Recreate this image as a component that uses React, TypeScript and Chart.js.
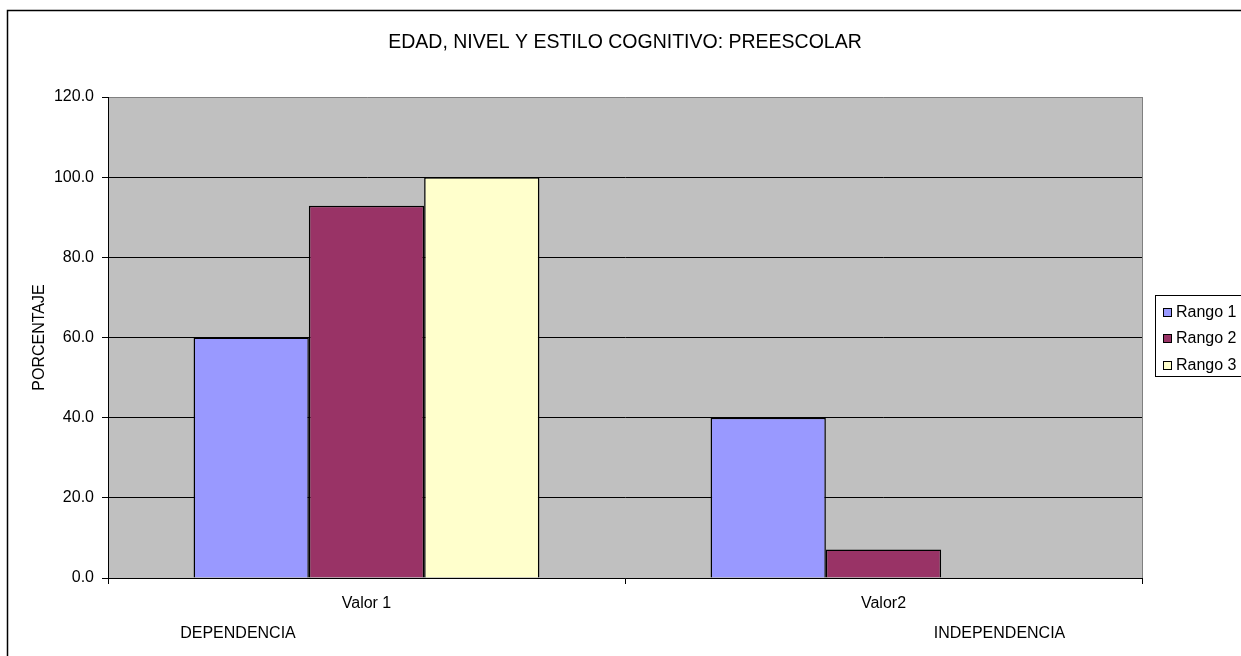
import { useEffect, useRef } from "react";
import { Chart, registerables } from "chart.js";

Chart.register(...registerables);

const TITLE = "EDAD, NIVEL Y ESTILO COGNITIVO: PREESCOLAR";
const CATEGORIES = ["Valor 1", "Valor2"];
const SERIES_NAMES = ["Rango 1", "Rango 2", "Rango 3"];
const RANGO_1 = [60.0, 40.0];
const RANGO_2 = [92.9, 7.1];
const RANGO_3 = [100.0, 0.0];
const SERIES_COLORS = ["#9999FF", "#993366", "#FFFFCC"];
const Y_MIN = 0;
const Y_MAX = 120;
const Y_STEP = 20;
const Y_TITLE = "PORCENTAJE";
const GROUP_NOTES = ["DEPENDENCIA", "INDEPENDENCIA"];

const FONT = "'Liberation Sans', Arial, sans-serif";
const SMALL = 16;
const W = 1241;
const H = 656;

const decorPlugin = {
  id: "decor",
  beforeDraw(chart: any) {
    const ctx = chart.ctx;
    const a = chart.chartArea;
    ctx.save();
    ctx.fillStyle = "#ffffff";
    ctx.fillRect(0, 0, W, H);
    ctx.strokeStyle = "#000000";
    ctx.lineWidth = 1.5;
    ctx.strokeRect(7.5, 10.5, W + 20, H + 20);
    ctx.fillStyle = "#C0C0C0";
    ctx.fillRect(a.left, a.top, a.right - a.left, a.bottom - a.top);
    ctx.restore();
  },
  afterDraw(chart: any) {
    const ctx = chart.ctx;
    const a = chart.chartArea;
    ctx.save();
    // right plot border
    ctx.strokeStyle = "#808080";
    ctx.lineWidth = 1;
    ctx.beginPath();
    ctx.moveTo(Math.round(a.right) + 0.5, a.top);
    ctx.lineTo(Math.round(a.right) + 0.5, a.bottom);
    ctx.stroke();
    // title
    ctx.fillStyle = "#000000";
    ctx.textAlign = "center";
    ctx.textBaseline = "middle";
    ctx.font = `19.5px ${FONT}`;
    ctx.fillText(TITLE, (a.left + a.right) / 2, 43);
    // group notes
    ctx.font = `${SMALL}px ${FONT}`;
    ctx.fillText(GROUP_NOTES[0], 238, 634);
    ctx.fillText(GROUP_NOTES[1], 999.5, 634);
    // legend
    const lx = 1155.5;
    const ly = 295.5;
    ctx.fillStyle = "#ffffff";
    ctx.fillRect(lx, ly, 200, 81);
    ctx.strokeStyle = "#000000";
    ctx.lineWidth = 1;
    ctx.strokeRect(lx, ly, 200, 81);
    ctx.textAlign = "left";
    ctx.font = `${SMALL}px ${FONT}`;
    chart.data.datasets.forEach((ds: any, i: number) => {
      const y = 312.5 + i * 26.5;
      ctx.fillStyle = ds.backgroundColor;
      ctx.fillRect(1163.5, Math.round(y) - 4.5, 8, 8);
      ctx.strokeStyle = "#000000";
      ctx.strokeRect(1163.5, Math.round(y) - 4.5, 8, 8);
      ctx.fillStyle = "#000000";
      ctx.fillText(ds.label, 1176, y);
    });
    ctx.restore();
  },
};

export default function App() {
  const ref = useRef<HTMLCanvasElement>(null);
  useEffect(() => {
    if (!ref.current) return;
    const seriesData = [RANGO_1, RANGO_2, RANGO_3];
    const chart = new Chart(ref.current, {
      type: "bar",
      data: {
        labels: CATEGORIES,
        datasets: SERIES_NAMES.map((name, i) => ({
          label: name,
          data: seriesData[i],
          backgroundColor: SERIES_COLORS[i],
          borderColor: "#000000",
          borderWidth: 1.5,
          categoryPercentage: 0.669,
          barPercentage: 1.0,
        })),
      },
      options: {
        responsive: false,
        animation: false,
        devicePixelRatio: 1,
        layout: { padding: { top: 97, left: 0, right: W - 1142, bottom: 0 } },
        plugins: {
          legend: { display: false },
          title: { display: false },
          tooltip: { enabled: false },
        },
        scales: {
          x: {
            grid: {
              display: true,
              drawOnChartArea: false,
              drawTicks: true,
              tickLength: 6,
              tickColor: "#000000",
              offset: true,
            },
            border: { color: "#000000", width: 1 },
            ticks: {
              color: "#000000",
              font: { family: FONT, size: SMALL },
              padding: 10,
              maxRotation: 0,
            },
            afterFit: (scale: any) => {
              scale.height = H - 578;
            },
          },
          y: {
            min: Y_MIN,
            max: Y_MAX,
            grid: {
              color: (c: any) => (c.tick && c.tick.value === Y_MAX ? "#808080" : "#000000"),
              tickColor: "#000000",
              tickLength: 6,
              lineWidth: 1,
            },
            border: { color: "#000000", width: 1 },
            ticks: {
              stepSize: Y_STEP,
              color: "#000000",
              font: { family: FONT, size: SMALL },
              padding: 8,
              callback: (v: any) => Number(v).toFixed(1),
            },
            title: {
              display: true,
              text: Y_TITLE,
              color: "#000000",
              font: { family: FONT, size: SMALL },
              padding: { top: 30, bottom: 0 },
            },
            afterFit: (scale: any) => {
              scale.width = 108;
            },
          },
        },
      },
      plugins: [decorPlugin],
    });
    return () => chart.destroy();
  }, []);
  return (
    <div style={{ position: "absolute", left: 0, top: 0, width: W, height: H }}>
      <canvas ref={ref} width={W} height={H} style={{ display: "block" }} />
    </div>
  );
}
